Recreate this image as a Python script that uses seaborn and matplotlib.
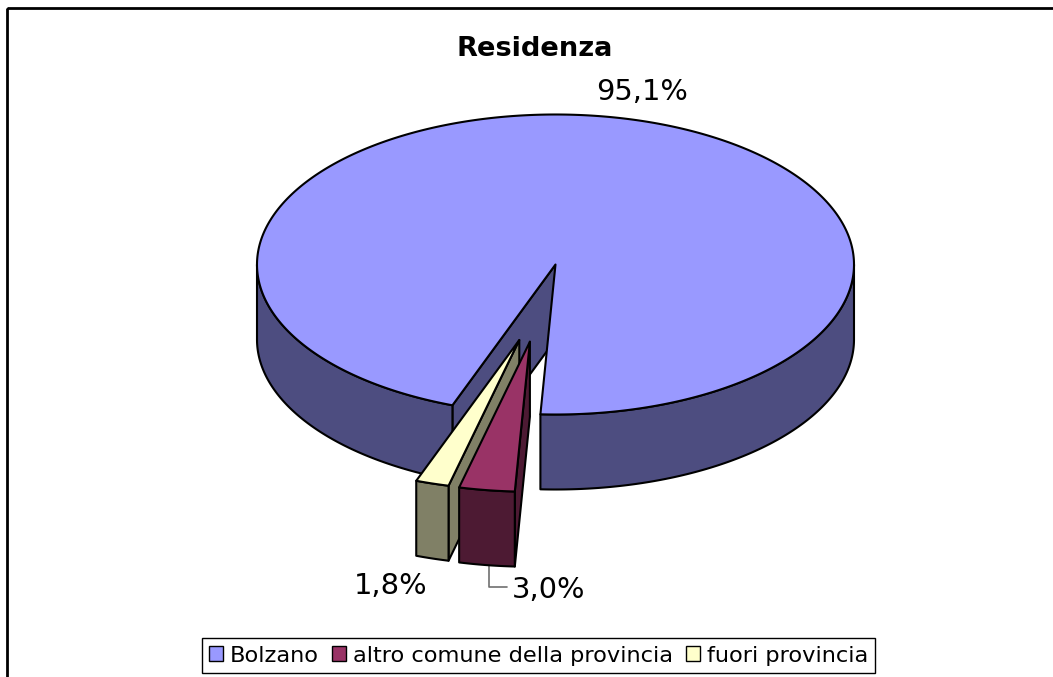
import numpy as np
import matplotlib
matplotlib.use("Agg")
import matplotlib.pyplot as plt
from matplotlib.patches import Polygon, Rectangle, Patch
import seaborn as sns

# Data
categories = ["Bolzano", "altro comune della provincia", "fuori provincia"]
shares = [95.1, 3.0, 1.8]
share_labels = ["95,1%", "3,0%", "1,8%"]
title = "Residenza"

# Styles
top_colors = ["#9999FF", "#993366", "#FFFFCC"]
side_colors = ["#4D4D80", "#4D1A33", "#808066"]

sns.set_theme(style="white")
plt.rcParams["font.family"] = ["DejaVu Sans"]

W, H = 1053, 677
fig = plt.figure(figsize=(W / 100, H / 100), dpi=100, facecolor="white")
ax = fig.add_axes([0, 0, 1, 1])
ax.set_xlim(0, W)
ax.set_ylim(H, 0)
ax.axis("off")

# 3-D pie projection
CX, CY, RX, RY, DEPTH = 555.5, 264.5, 298.5, 150.0, 75.0
END_OF_FIRST = 182.9               # clock angle at which the first slice ends
OFFSETS = [(0, 0), (-25.6, 77.2), (-36.2, 75.5)]
LW = 1.5


def pt(a, c):
    r = np.radians(a)
    return np.array([c[0] + RX * np.sin(r), c[1] - RY * np.cos(r)])


def arc(a0, a1, c):
    n = max(2, int(abs(a1 - a0) * 2))
    return np.array([pt(a, c) for a in np.linspace(a0, a1, n)])


def poly(points, color, z):
    ax.add_patch(Polygon(points, closed=True, facecolor=color, edgecolor="black",
                         linewidth=LW, joinstyle="round", zorder=z))


def wall(a0, a1, c, color, z):
    """Outer rim between clock angles a0..a1, visible lower half only."""
    lo, hi = max(a0, 90), min(a1, 270)
    if hi <= lo:
        return
    top = arc(lo, hi, c)
    poly(np.vstack([top, (top + [0, DEPTH])[::-1]]), color, z)


def cut_face(a, c, color, z):
    p = pt(a, c)
    d = np.array([0, DEPTH])
    poly([c, p, p + d, np.array(c) + d], color, z)


spans = np.array(shares) / sum(shares) * 360.0
main_start = END_OF_FIRST - spans[0]      # clock angle, may be negative
main_start_pos = main_start + 360.0

# Bolzano
c0 = (CX, CY)
cut_face(main_start_pos, c0, side_colors[0], 1)
wall(90, END_OF_FIRST, c0, side_colors[0], 1)
wall(main_start_pos, 270, c0, side_colors[0], 1)
poly(np.vstack([[c0], arc(main_start_pos, main_start_pos + spans[0], c0)]), top_colors[0], 2)

# Exploded slices, drawn back-to-front (last slice first)
start_angles = [END_OF_FIRST, END_OF_FIRST + spans[1]]
for i, a0, z in [(2, start_angles[1], 3), (1, start_angles[0], 6)]:
    c = (CX + OFFSETS[i][0], CY + OFFSETS[i][1])
    a1 = a0 + spans[i]
    cut_face(a0, c, side_colors[i], z)
    wall(a0, a1, c, side_colors[i], z)
    poly(np.vstack([[c], arc(a0, a1, c)]), top_colors[i], z + 1)

# Leader line
ax.plot([488.5, 488.5, 507], [565, 587, 587], color="#707070", lw=1.2, zorder=0.5)

# Labels
ax.text(535, 49, title, ha="center", va="center", fontsize=19.6, fontweight="bold", color="black")
ax.text(642.5, 92, share_labels[0], ha="center", va="center", fontsize=20.8, color="black")
ax.text(549, 590, share_labels[1], ha="center", va="center", fontsize=20.8, color="black")
ax.text(390.5, 586, share_labels[2], ha="center", va="center", fontsize=20.8, color="black")

# Chart frame (runs past the right and bottom image edges)
ax.add_patch(Rectangle((6.5, 8), W + 20, H + 20, fill=False, edgecolor="black",
                       linewidth=2.0, zorder=10))

# Legend
handles = [Patch(facecolor=c, edgecolor="black", linewidth=1.0) for c in top_colors]
leg = fig.legend(handles, categories, ncol=3, loc="center",
                 bbox_to_anchor=(538.5 / W, 1 - 655.5 / H), fontsize=16.2,
                 frameon=True, fancybox=False, framealpha=1, edgecolor="black",
                 handlelength=0.62, handleheight=0.62, handletextpad=0.3,
                 columnspacing=0.6, borderpad=0.32, borderaxespad=0,
                 labelcolor="black")
leg.get_frame().set_linewidth(1.0)

fig.savefig("out.png", dpi=100, facecolor="white")
